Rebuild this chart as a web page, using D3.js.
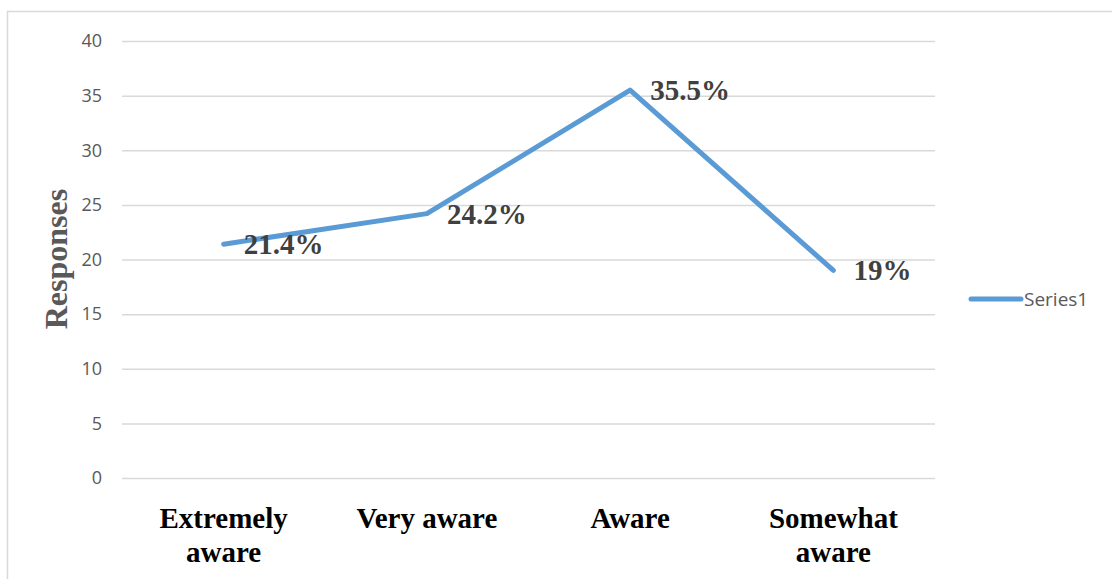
<!DOCTYPE html>
<html>
<head>
<meta charset="utf-8">
<script src="https://cdn.jsdelivr.net/npm/d3@7"></script>
<style>
  html, body { margin: 0; padding: 0; background: #ffffff; }
  svg { display: block; }
</style>
</head>
<body>
<svg id="chart" width="1112" height="579"></svg>
<script>
// Awareness levels and share of responses (%)
const categories = ["Extremely aware", "Very aware", "Aware", "Somewhat aware"];
const categoryLines = [["Extremely", "aware"], ["Very aware"], ["Aware"], ["Somewhat", "aware"]];
const values = [21.4, 24.2, 35.5, 19];
const valueLabels = ["21.4%", "24.2%", "35.5%", "19%"];
const yTicks = [0, 5, 10, 15, 20, 25, 30, 35, 40];
const seriesName = "Series1";

const svg = d3.select("#chart");
const W = 1112, H = 579;
const plot = { left: 122, right: 935, top: 41, bottom: 478 };
const lineColor = "#5b9bd5";

// Chart area outline
svg.append("rect")
  .attr("x", 7.5).attr("y", 11.5)
  .attr("width", W).attr("height", H)
  .attr("fill", "#ffffff")
  .attr("stroke", "#d9d9d9").attr("stroke-width", 1.5);

const x = d3.scalePoint().domain(categories).range([plot.left, plot.right]).padding(0.5);
const y = d3.scaleLinear().domain([0, 40]).range([plot.bottom, plot.top]);

// Y axis with gridlines
const yAxis = d3.axisLeft(y)
  .tickValues(yTicks)
  .tickSize(-(plot.right - plot.left))
  .tickPadding(20);
const gy = svg.append("g").attr("transform", `translate(${plot.left},0)`).call(yAxis);
gy.select(".domain").remove();
gy.selectAll(".tick line").attr("stroke", "#d9d9d9").attr("stroke-width", 1.5);
gy.selectAll(".tick text")
  .attr("fill", "#595959")
  .style("font-family", "'Open Sans', sans-serif")
  .style("font-size", "18px");

// Category labels (bold serif, possibly two lines)
const cat = svg.append("g");
categories.forEach((c, i) => {
  const t = cat.append("text")
    .attr("x", x(c)).attr("y", 528)
    .attr("text-anchor", "middle")
    .attr("fill", "#000000")
    .style("font-family", "'Liberation Serif', 'Times New Roman', serif")
    .style("font-weight", "bold")
    .style("font-size", "29px");
  categoryLines[i].forEach((ln, k) => {
    t.append("tspan").attr("x", x(c)).attr("dy", k === 0 ? 0 : 34).text(ln);
  });
});

// Y axis title
svg.append("text")
  .attr("transform", `translate(67,259) rotate(-90)`)
  .attr("text-anchor", "middle")
  .attr("fill", "#595959")
  .style("font-family", "'Liberation Serif', 'Times New Roman', serif")
  .style("font-weight", "bold")
  .style("font-size", "32px")
  .text("Responses");

// Series line
const line = d3.line()
  .x((d, i) => x(categories[i]))
  .y(d => y(d));
svg.append("path")
  .datum(values)
  .attr("d", line)
  .attr("fill", "none")
  .attr("stroke", lineColor)
  .attr("stroke-width", 5)
  .attr("stroke-linejoin", "round")
  .attr("stroke-linecap", "round");

// Data labels
svg.append("g").selectAll("text")
  .data(values)
  .join("text")
  .attr("x", (d, i) => x(categories[i]) + 20)
  .attr("y", d => y(d) + 10)
  .attr("fill", "#404040")
  .style("font-family", "'Liberation Serif', 'Times New Roman', serif")
  .style("font-weight", "bold")
  .style("font-size", "29px")
  .text((d, i) => valueLabels[i]);

// Legend
const lg = svg.append("g");
lg.append("line")
  .attr("x1", 971).attr("x2", 1021)
  .attr("y1", 299).attr("y2", 299)
  .attr("stroke", lineColor).attr("stroke-width", 5)
  .attr("stroke-linecap", "round");
lg.append("text")
  .attr("x", 1024).attr("y", 299).attr("dy", "0.35em")
  .attr("fill", "#595959")
  .style("font-family", "'Open Sans', sans-serif")
  .style("font-size", "19px")
  .text(seriesName);
</script>
</body>
</html>
